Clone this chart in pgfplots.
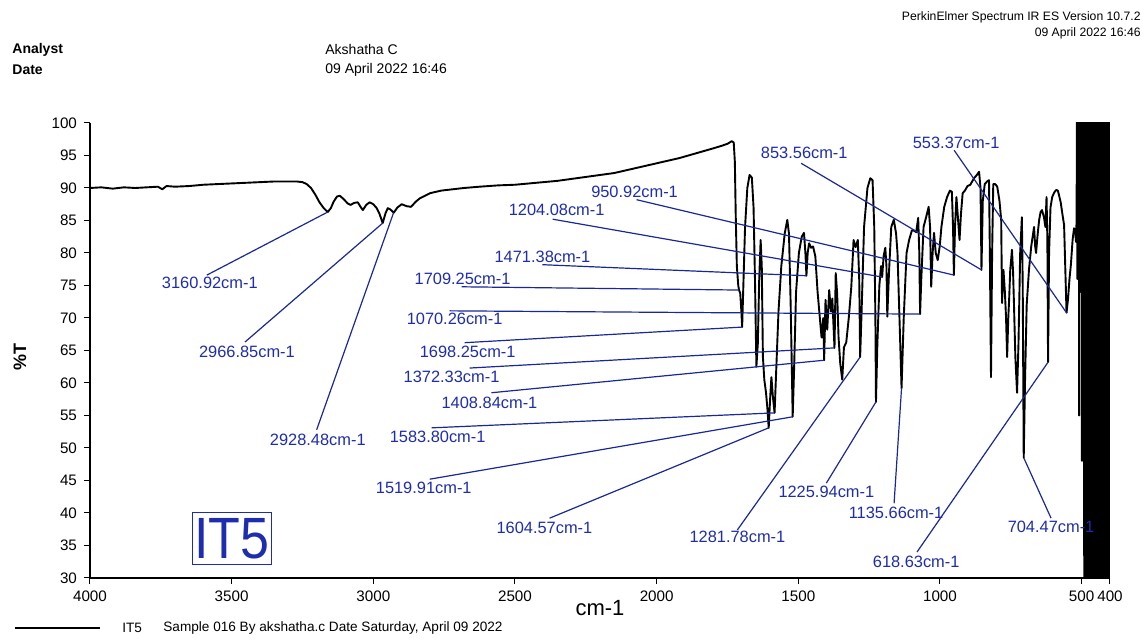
\documentclass[border=0pt]{standalone}
\usepackage{pgfplots}
\pgfplotsset{compat=1.18}
\usepackage{fontspec}
\setmainfont{Liberation Sans}
\definecolor{peakblue}{RGB}{30,45,175}
\definecolor{leadblue}{RGB}{25,40,150}
\tikzset{
  lbl/.style={text=peakblue, font=\fontsize{8.2}{9}\selectfont, inner sep=0pt},
  lead/.style={leadblue, line width=0.6pt},
}

\begin{document}
\begin{tikzpicture}
\path[use as bounding box] (-45pt,-31pt) rectangle (527pt,289pt);
\begin{axis}[
  at={(0,0)}, anchor=south west,
  scale only axis, width=510pt, height=227.5pt,
  x dir=reverse, xmin=400, xmax=4000, ymin=30, ymax=100,
  axis lines*=left,
  xtick={4000,3500,3000,2500,2000,1500,1000,500,400},
  ytick={30,35,...,100},
  tick align=outside, major tick length=3pt,
  tick style={black, line width=0.5pt},
  axis line style={line width=0.6pt},
  ticklabel style={font=\fontsize{7.6}{8}\selectfont},
  /pgf/number format/assume math mode=true,
  /pgf/number format/1000 sep={},
]
% transmittance trace
\addplot[black, line width=0.95pt, line join=round] table {
4000 90.0
3960 90.1
3920 89.9
3880 90.1
3840 90.0
3800 90.1
3760 90.2
3745 89.8
3730 90.3
3700 90.2
3650 90.3
3600 90.5
3550 90.6
3500 90.7
3450 90.8
3400 90.9
3350 91.0
3300 91.0
3270 91.0
3250 90.9
3235 90.6
3220 90.0
3205 89.0
3190 87.8
3175 86.9
3161 86.3
3150 86.9
3140 87.9
3128 88.7
3118 88.8
3105 88.3
3090 87.6
3080 87.4
3068 87.7
3055 87.8
3045 87.1
3037 86.6
3025 87.4
3013 87.8
3000 87.5
2988 86.9
2978 86.0
2967 84.6
2957 86.1
2949 86.9
2940 86.7
2928 86.2
2915 87.0
2900 87.5
2882 87.2
2867 87.1
2850 87.9
2836 88.4
2800 89.2
2760 89.6
2720 89.8
2680 90.0
2625 90.2
2560 90.4
2500 90.5
2450 90.7
2400 90.9
2350 91.1
2300 91.4
2250 91.7
2200 92.0
2150 92.3
2100 92.8
2050 93.3
2000 93.8
1960 94.2
1920 94.6
1880 95.1
1840 95.6
1800 96.1
1770 96.5
1750 96.8
1735 97.2
1728 97.0
1724 94.0
1721 86.0
1717 78.0
1712 75.0
1709.25 74.3
1705 73.8
1701 71.0
1698.25 68.6
1694 75
1688 84
1680 90
1672 92.0
1664 91.6
1658 87
1653 76
1648 62.5
1643 66
1638 76
1633 82.0
1629 78
1625 64
1620 60.5
1614 58.5
1609 56
1604.57 53.1
1599 58
1595 60.9
1590 58
1583.8 55.4
1578 62
1570 71
1560 78
1548 83
1539 85.1
1533 83
1527 72
1522 60
1519.91 54.8
1515 62
1508 74
1498 80
1488 82.5
1480 83.1
1475 80
1471.38 76.5
1467 80
1462 81.5
1455 80.8
1448 81
1440 79.5
1432 74
1424 70
1418 67
1412 70
1408.84 63.5
1404 72.8
1398 68.2
1391 74.3
1385 71
1380 73
1376 69
1372.33 65.4
1368 76.9
1363 73.8
1358 67
1352 63
1345 60.5
1339 65.5
1331 66.2
1322 70
1313 74.8
1305 82
1298 80.9
1290 82
1285 75.8
1281.78 64.0
1276 72
1268 84
1256 90
1246 91.5
1238 91.2
1232 84
1228 70
1225.94 57.1
1221 66
1214 75
1208 78
1204.08 76.3
1199 79.5
1193 80.8
1189 78
1186 70.2
1180 77
1172 84
1163 85.1
1155 83
1150 80
1143 70
1135.66 59.2
1128 70
1118 80
1109 82
1099 83.5
1090 83.4
1084 83.2
1077 85.4
1073 80
1070.26 70.6
1066 76
1058 84
1049 85.5
1040 87.1
1035 84
1031 74.8
1026 80
1021 83.1
1015 80
1008 78.9
1001 81
995 84
985 87.1
975 88.6
965 89.6
958 89.4
954 84
950.92 76.6
947 84
942 88.6
936 85
931 82
926 86
920 89.2
912 89.6
903 90.3
893 90.5
880 91.5
870 92.0
862 92.5
857 90
853.56 77.4
849 88
842 90.6
834 91.0
827 91.2
824 80
820 60.9
816 80
812 90.6
805 90.6
798 90.2
790 88
784 85.1
781 72.3
776 77.4
771 74
767 70.2
763 64
759 70
756 72.8
752 77.5
749 78.9
746 80.5
742 77
739 72.3
734 64
728 58.5
723 66
717 80
711 85.5
708 75
704.47 48.5
700 60
694 72
686 77.4
678 81
668 84
664 81
661 80
655 83
650 85.1
645 86.3
640 86.6
633 85.5
628 84
624 88.6
621 82
618.63 63.2
615 80
610 87
604 88.6
597 89.3
590 89.7
584 89.6
580 88.9
574 87.8
568 86
562 84.3
558 78
553.37 70.8
548 73
543 76
538 78.2
532 82
527 83.8
523 83.5
520 81.7
518 85
516 108
515 76
513 110
512 78
510 106
509 55
508 104
506 80
505 110
503 74
502 108
500 79
499 48
498 106
496 77
495 110
494 80
492 104
491 30
490 108
488 75
487 110
486 78
484 106
483 20
482 108
481 24
480 110
479 20
478 104
477 26
476 110
475 20
474 108
473 22
472 110
471 20
470 104
469 24
468 110
467 20
466 108
465 22
464 110
463 20
462 106
461 26
460 110
459 20
458 104
457 22
456 110
455 20
454 108
453 24
452 110
451 20
450 106
449 22
448 110
447 20
446 108
445 26
444 110
443 20
442 104
441 22
440 110
439 20
438 108
437 24
436 110
435 20
434 106
433 22
432 110
431 20
430 104
429 26
428 110
427 20
426 108
425 22
424 110
423 20
422 106
421 24
420 110
419 20
418 104
417 22
416 110
415 20
414 108
413 26
412 110
411 20
410 106
409 22
408 110
407 20
406 104
405 24
404 110
403 20
402 108
401 22
400 106
};
% peak pick leaders
\addplot[lead] coordinates {(3587.5,76.6) (3160.92,86.3)};
\addplot[lead] coordinates {(3453,66.3) (2966.85,84.6)};
\addplot[lead] coordinates {(3200,52.8) (2928.48,86.2)};
\addplot[lead] coordinates {(1490,93.8) (853.56,77.4)};
\addplot[lead] coordinates {(950,95.8) (553.37,70.8)};
\addplot[lead] coordinates {(2071,88.2) (950.92,76.6)};
\addplot[lead] coordinates {(2367,85.2) (1204.08,76.3)};
\addplot[lead] coordinates {(2403,78.2) (1471.38,76.5)};
\addplot[lead] coordinates {(2688,74.8) (1709.25,74.3)};
\addplot[lead] coordinates {(2731,71.1) (1070.26,70.6)};
\addplot[lead] coordinates {(2678,66.2) (1698.25,68.6)};
\addplot[lead] coordinates {(2660,62.3) (1372.33,65.4)};
\addplot[lead] coordinates {(2583,58.5) (1408.84,63.5)};
\addplot[lead] coordinates {(2794,53.1) (1583.80,55.4)};
\addplot[lead] coordinates {(2801,45.2) (1519.91,54.8)};
\addplot[lead] coordinates {(2378,39.2) (1604.57,53.1)};
\addplot[lead] coordinates {(1715,37.4) (1281.78,64.0)};
\addplot[lead] coordinates {(1401,44.6) (1225.94,57.1)};
\addplot[lead] coordinates {(1162,41.5) (1135.66,59.2)};
\addplot[lead] coordinates {(1081,34.0) (618.63,63.2)};
\addplot[lead] coordinates {(608,39.2) (704.47,48.5)};
% peak labels
\node[lbl] at (axis cs:3577,75.4) {3160.92cm-1};
\node[lbl] at (axis cs:3446,64.8) {2966.85cm-1};
\node[lbl] at (axis cs:3196,51.2) {2928.48cm-1};
\node[lbl] at (axis cs:1479,95.4) {853.56cm-1};
\node[lbl] at (axis cs:943,96.9) {553.37cm-1};
\node[lbl] at (axis cs:2078,89.4) {950.92cm-1};
\node[lbl] at (axis cs:2353,86.6) {1204.08cm-1};
\node[lbl] at (axis cs:2403,79.4) {1471.38cm-1};
\node[lbl] at (axis cs:2685,76.0) {1709.25cm-1};
\node[lbl] at (axis cs:2713,69.8) {1070.26cm-1};
\node[lbl] at (axis cs:2667,64.8) {1698.25cm-1};
\node[lbl] at (axis cs:2724,60.9) {1372.33cm-1};
\node[lbl] at (axis cs:2590,56.9) {1408.84cm-1};
\node[lbl] at (axis cs:2773,51.7) {1583.80cm-1};
\node[lbl] at (axis cs:2822,43.8) {1519.91cm-1};
\node[lbl] at (axis cs:2396,37.7) {1604.57cm-1};
\node[lbl] at (axis cs:1715,36.3) {1281.78cm-1};
\node[lbl] at (axis cs:1401,43.2) {1225.94cm-1};
\node[lbl] at (axis cs:1155,40.0) {1135.66cm-1};
\node[lbl] at (axis cs:1084,32.5) {618.63cm-1};
\node[lbl] at (axis cs:608,37.8) {704.47cm-1};
% sample tag
\node[draw=peakblue, line width=0.5pt, text=peakblue, inner sep=0pt,
      minimum width=39.5pt, minimum height=26pt,
      font=\fontsize{26}{28}\selectfont] at (axis cs:3499,36.0) {\scalebox{1}[1.12]{IT5}};
\end{axis}
% page header, axis titles and footer
\begin{scope}[x=0.5pt,y=-0.5pt,shift={(-45pt,289pt)}]
\node[anchor=west, inner sep=0pt, font=\bfseries\fontsize{7}{8}\selectfont] at (12,50) {Analyst};
\node[anchor=west, inner sep=0pt, font=\bfseries\fontsize{7}{8}\selectfont] at (12,70) {Date};
\node[anchor=west, inner sep=0pt, font=\fontsize{7}{8}\selectfont] at (325,50) {Akshatha C};
\node[anchor=west, inner sep=0pt, font=\fontsize{7}{8}\selectfont] at (325,70) {09 April 2022 16:46};
\node[anchor=east, inner sep=0pt, font=\fontsize{6.1}{7}\selectfont] at (1141,17) {PerkinElmer Spectrum IR ES Version 10.7.2};
\node[anchor=east, inner sep=0pt, font=\fontsize{6.1}{7}\selectfont] at (1141,33) {09 April 2022 16:46};
\node[rotate=90, inner sep=0pt, font=\bfseries\fontsize{9}{10}\selectfont] at (20,357) {\%T};
\node[inner sep=0pt, font=\fontsize{11}{12}\selectfont] at (600,608) {cm-1};
\draw[line width=1.2pt] (15,628) -- (100,628);
\node[anchor=west, inner sep=0pt, font=\fontsize{6.8}{8}\selectfont] at (122,628) {IT5};
\node[anchor=west, inner sep=0pt, font=\fontsize{6.8}{8}\selectfont] at (163,628) {Sample 016 By akshatha.c Date Saturday, April 09 2022};
\end{scope}
\end{tikzpicture}
\end{document}
